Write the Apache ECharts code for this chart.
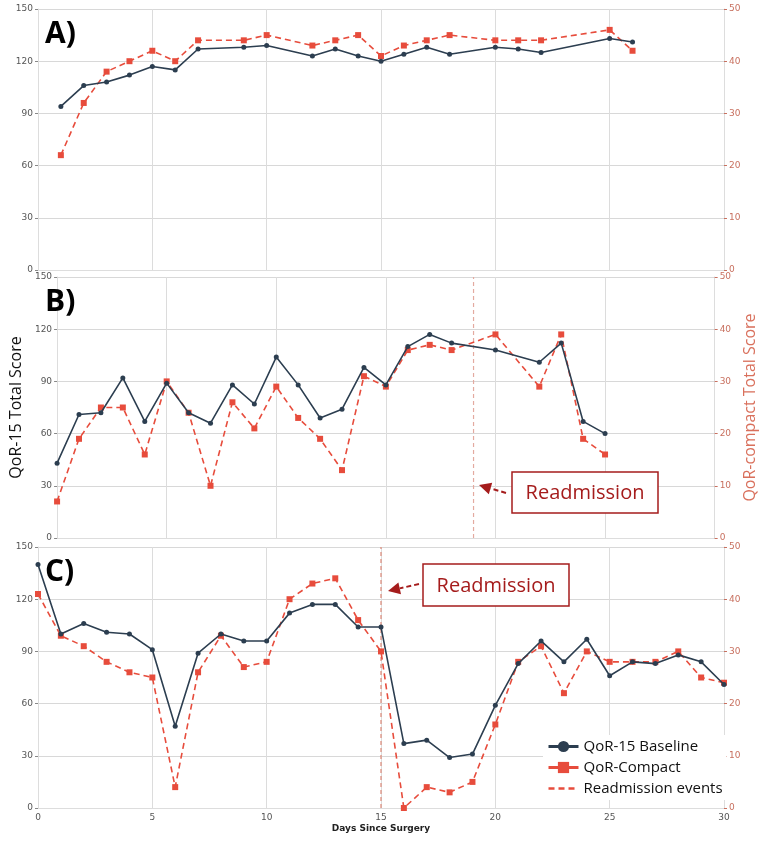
<!DOCTYPE html>
<html>
<head>
<meta charset="utf-8">
<script src="https://cdn.jsdelivr.net/npm/echarts@6/dist/echarts.min.js"></script>
<style>
  html, body { margin: 0; padding: 0; background: #fff; }
  #chart { width: 766px; height: 867px; }
</style>
</head>
<body>
<div id="chart"></div>
<script>
// panel A
const daysA = [1, 2, 3, 4, 5, 6, 7, 9, 10, 12, 13, 14, 15, 16, 17, 18, 20, 21, 22, 25, 26];
const baseA = [94, 106, 108, 112, 117, 115, 127, 128, 129, 123, 127, 123, 120, 124, 128, 124, 128, 127, 125, 133, 131];
const compA = [22, 32, 38, 40, 42, 40, 44, 44, 45, 43, 44, 45, 41, 43, 44, 45, 44, 44, 44, 46, 42];

// panel B
const daysB = [0, 1, 2, 3, 4, 5, 6, 7, 8, 9, 10, 11, 12, 13, 14, 15, 16, 17, 18, 20, 22, 23, 24, 25];
const baseB = [43, 71, 72, 92, 67, 89, 72, 66, 88, 77, 104, 88, 69, 74, 98, 88, 110, 117, 112, 108, 101, 112, 67, 60];
const compB = [7, 19, 25, 25, 16, 30, 24, 10, 26, 21, 29, 23, 19, 13, 31, 29, 36, 37, 36, 39, 29, 39, 19, 16];
const readmitB = 19;

// panel C
const daysC = [0, 1, 2, 3, 4, 5, 6, 7, 8, 9, 10, 11, 12, 13, 14, 15, 16, 17, 18, 19, 20, 21, 22, 23, 24, 25, 26, 27, 28, 29, 30];
const baseC = [140, 100, 106, 101, 100, 91, 47, 89, 100, 96, 96, 112, 117, 117, 104, 104, 37, 39, 29, 31, 59, 83, 96, 84, 97, 76, 84, 83, 88, 84, 71];
const compC = [41, 33, 31, 28, 26, 25, 4, 26, 33, 27, 28, 40, 43, 44, 36, 30, 0, 4, 3, 5, 16, 28, 31, 22, 30, 28, 28, 28, 30, 25, 24];
const readmitC = 15;

const panelLabels = ['A)', 'B)', 'C)'];
const leftTicks = { min: 0, max: 150, interval: 30 };
const rightTicks = { min: 0, max: 50, interval: 10 };

const NAVY = '#2c3e50';
const RED = '#e74c3c';
const AXRED = '#c8705f';
const DARKRED = '#a51c1c';

const zip = (xs, ys) => xs.map((x, i) => [x, ys[i]]);

const grids = [
  { left: 38, right: 42, top: 9, height: 261 },
  { left: 38, right: 42, top: 277, height: 261 },
  { left: 38, right: 42, top: 547, height: 261 }
];

const xAxes = grids.map((g, i) => ({
  type: 'value', gridIndex: i, min: 0, max: 30, interval: 5,
  axisLine: { show: true, lineStyle: { color: '#ddd' } },
  axisTick: { show: false },
  axisLabel: { show: i === 2, color: '#555', fontSize: 9, fontFamily: 'DejaVu Sans', margin: 5 },
  splitLine: { show: true, lineStyle: { color: '#dcdcdc', width: 1 } },
  name: i === 2 ? 'Days Since Surgery' : '',
  nameLocation: 'middle', nameGap: 16,
  nameTextStyle: { fontSize: 9, fontWeight: 'bold', color: '#222', fontFamily: 'DejaVu Sans' }
}));

const yAxes = [];
grids.forEach((g, i) => {
  yAxes.push({
    type: 'value', gridIndex: i, position: 'left', ...leftTicks,
    axisLine: { show: true, lineStyle: { color: '#ddd' } },
    axisTick: { show: true, length: 3, lineStyle: { color: '#888' } },
    axisLabel: { color: '#555', fontSize: 9, fontFamily: 'DejaVu Sans', margin: 5 },
    splitLine: { show: true, lineStyle: { color: '#d8d8d8', width: 1 } },
    name: i === 1 ? 'QoR-15 Total Score' : '',
    nameLocation: 'middle', nameGap: 22,
    nameTextStyle: { fontSize: 16, color: '#111', fontFamily: 'Open Sans' }
  });
  yAxes.push({
    type: 'value', gridIndex: i, position: 'right', ...rightTicks,
    axisLine: { show: true, lineStyle: { color: '#ddd' } },
    axisTick: { show: true, length: 3, lineStyle: { color: AXRED } },
    axisLabel: { color: AXRED, fontSize: 9, fontFamily: 'DejaVu Sans', margin: 5 },
    splitLine: { show: false },
    name: i === 1 ? 'QoR-compact Total Score' : '',
    nameLocation: 'middle', nameGap: 20, nameRotate: 90,
    nameTextStyle: { fontSize: 16, color: '#d9705c', fontFamily: 'Open Sans' }
  });
});

function baseSeries(i, data) {
  return {
    name: 'QoR-15 Baseline', type: 'line', xAxisIndex: i, yAxisIndex: 2 * i,
    data: data, symbol: 'circle', symbolSize: 5,
    lineStyle: { color: NAVY, width: 1.6 }, itemStyle: { color: NAVY },
    z: 4
  };
}
function compSeries(i, data) {
  return {
    name: 'QoR-Compact', type: 'line', xAxisIndex: i, yAxisIndex: 2 * i + 1,
    data: data, symbol: 'rect', symbolSize: 6,
    lineStyle: { color: RED, width: 1.6, type: [6, 4] }, itemStyle: { color: RED },
    z: 3
  };
}
function readmitSeries(i, day, color) {
  return {
    name: 'Readmission events', type: 'line', xAxisIndex: i, yAxisIndex: 2 * i,
    data: [[day, 0], [day, 150]], symbol: 'none',
    lineStyle: { color: color, width: 1.2, type: [4, 3] },
    itemStyle: { color: RED },
    z: 2
  };
}

const series = [
  baseSeries(0, zip(daysA, baseA)), compSeries(0, zip(daysA, compA)),
  baseSeries(1, zip(daysB, baseB)), compSeries(1, zip(daysB, compB)),
  readmitSeries(1, readmitB, '#e3aaa0'),
  baseSeries(2, zip(daysC, baseC)), compSeries(2, zip(daysC, compC)),
  readmitSeries(2, readmitC, '#dc8877')
];

// annotation box + dashed arrow
function annotation(box, from, tip) {
  const ang = Math.atan2(tip[1] - from[1], tip[0] - from[0]);
  const L = 12, W = 6;
  const bx = tip[0] - L * Math.cos(ang), by = tip[1] - L * Math.sin(ang);
  const px = -Math.sin(ang) * W, py = Math.cos(ang) * W;
  return [
    {
      type: 'rect', shape: { x: box[0], y: box[1], width: box[2], height: box[3] },
      style: { fill: '#fff', stroke: DARKRED, lineWidth: 1.5 }, z: 20
    },
    {
      type: 'text', x: box[0] + box[2] / 2, y: box[1] + box[3] / 2 + 1, z: 21,
      style: { text: 'Readmission', fill: DARKRED, font: '20px "Open Sans"', align: 'center', verticalAlign: 'middle' }
    },
    {
      type: 'line', shape: { x1: from[0], y1: from[1], x2: bx, y2: by },
      style: { stroke: DARKRED, lineWidth: 2, lineDash: [5, 3] }, z: 20
    },
    {
      type: 'polygon', shape: { points: [[tip[0], tip[1]], [bx + px, by + py], [bx - px, by - py]] },
      style: { fill: DARKRED }, z: 20
    }
  ];
}

const graphic = [
  ...panelLabels.map((t, i) => ({
    type: 'text', left: 45, top: grids[i].top + 10, z: 20,
    style: { text: t, fill: '#000', font: 'bold 30px "Open Sans"' }
  })),
  ...annotation([512, 472, 146, 41], [506, 493], [479, 485]),
  ...annotation([423, 564, 146, 42], [419, 584], [388, 591])
];

const chart = echarts.init(document.getElementById('chart'));
chart.setOption({
  animation: false,
  backgroundColor: '#fff',
  grid: grids,
  xAxis: xAxes,
  yAxis: yAxes,
  legend: {
    orient: 'vertical', left: 543, top: 735,
    backgroundColor: '#fff', padding: [4, 4, 4, 4],
    itemWidth: 30, itemHeight: 14, itemGap: 6,
    textStyle: { fontSize: 15, color: '#111', fontFamily: 'Open Sans' },
    data: [
      { name: 'QoR-15 Baseline', itemStyle: { color: NAVY }, lineStyle: { color: NAVY, width: 3 } },
      { name: 'QoR-Compact', itemStyle: { color: RED }, lineStyle: { color: RED, width: 3, type: 'solid' } },
      { name: 'Readmission events', itemStyle: { opacity: 0 }, lineStyle: { color: RED, width: 2.5, type: [6, 4] } }
    ]
  },
  graphic: graphic,
  series: series
});
</script>
</body>
</html>
